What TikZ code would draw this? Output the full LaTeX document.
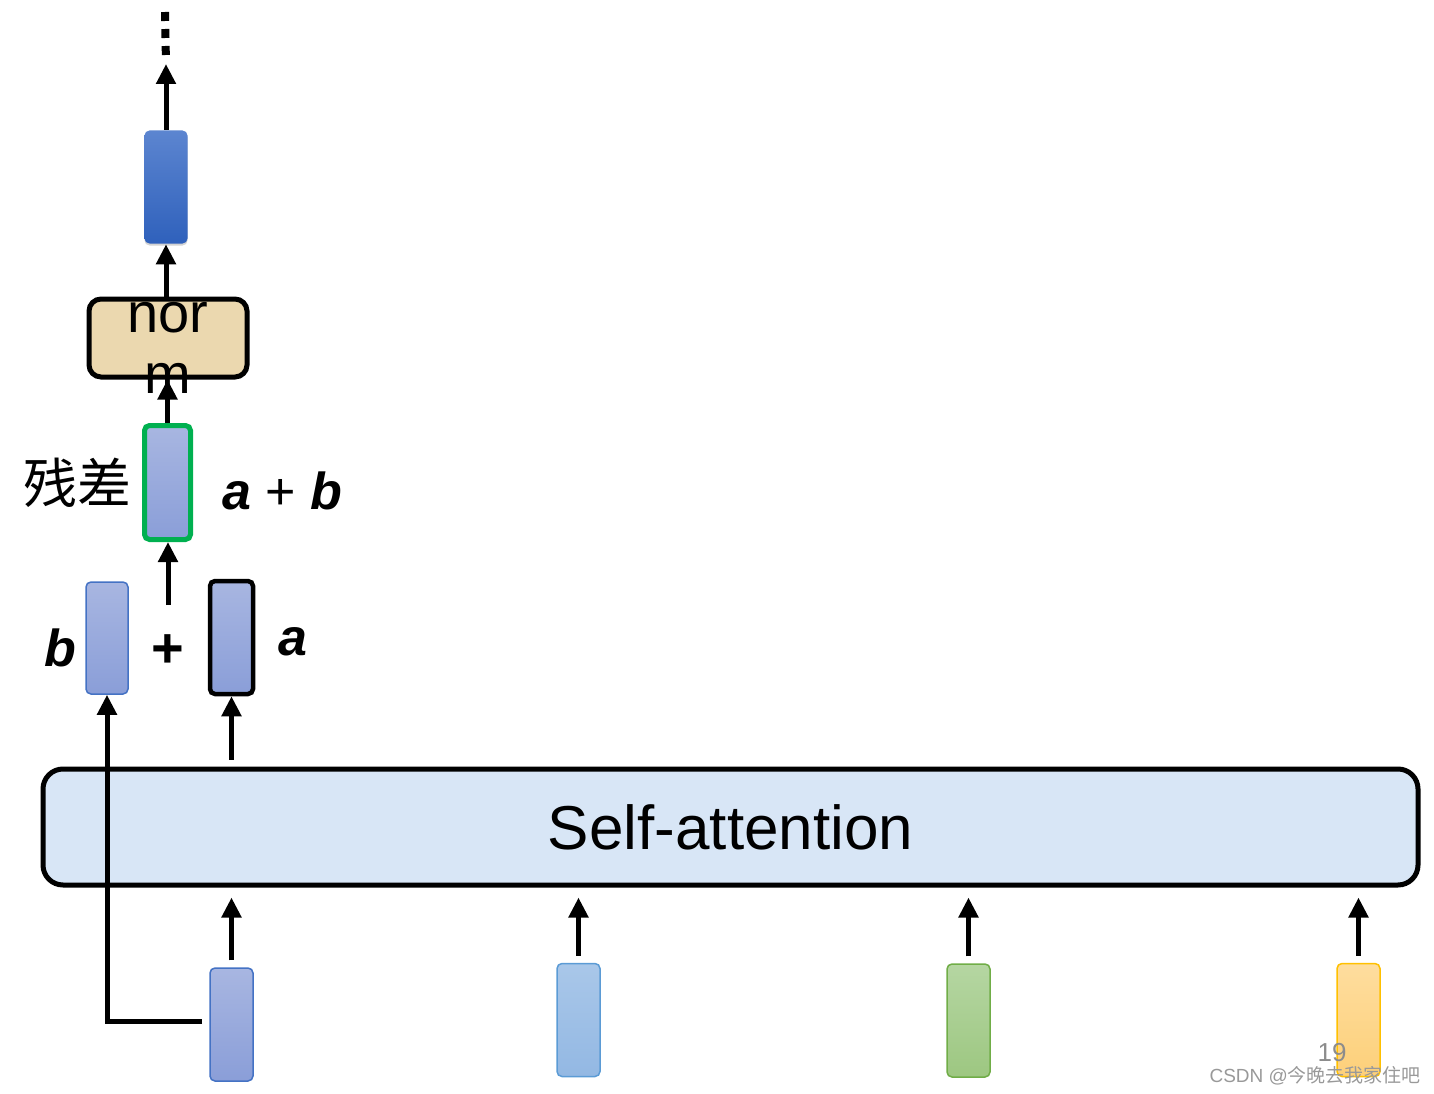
\documentclass[tikz,border=0pt]{standalone}
\usepackage{fontspec}
\setmainfont{Liberation Sans}
\newfontfamily\cjkfont{Noto Sans CJK SC}
\usetikzlibrary{arrows.meta,shadows}

\definecolor{lavtop}{HTML}{A8B6E1}
\definecolor{lavbot}{HTML}{8A9ED8}
\definecolor{vecedge}{HTML}{4472C4}
\definecolor{outtop}{HTML}{5C85D0}
\definecolor{outbot}{HTML}{2F61BC}
\definecolor{resgreen}{HTML}{00B050}
\definecolor{normfill}{HTML}{EBD8AF}
\definecolor{safill}{HTML}{D8E6F6}
\definecolor{skyedge}{HTML}{5B9BD5}
\definecolor{skytop}{HTML}{A9C7E9}
\definecolor{skybot}{HTML}{93B8E3}
\definecolor{leafedge}{HTML}{70AD47}
\definecolor{leaftop}{HTML}{B5D6A2}
\definecolor{leafbot}{HTML}{9DC781}
\definecolor{sunedge}{HTML}{FFC000}
\definecolor{suntop}{HTML}{FEDD9E}
\definecolor{sunbot}{HTML}{FDD07A}

\begin{document}
\begin{tikzpicture}[x=1pt, y=-1pt,
    vec/.style={draw=vecedge, line width=1.5pt, rounded corners=5pt, minimum width=43pt, minimum height=113pt, inner sep=0pt, top color=lavtop, bottom color=lavbot},
    arr/.style={line width=5pt, -{Triangle[width=19pt,length=20pt]}},
    lbl/.style={font=\fontsize{52}{52}\selectfont\bfseries\itshape},
  ]
  \useasboundingbox (0,0) rectangle (1434,1094);

  % upper part
  \node[vec, draw=none, top color=outtop, bottom color=outbot, drop shadow={opacity=0.35, shadow xshift=0pt, shadow yshift=-2pt}] (out) at (166,187) {};
  \node[draw, line width=5pt, rounded corners=12pt, fill=normfill, minimum width=158pt, minimum height=78pt, inner sep=0pt,
        label={[align=center, font=\fontsize{56}{61}\selectfont, yshift=-10pt]center:nor\\m}] (norm) at (168,338) {};
  \node[vec, draw=resgreen, line width=5pt, minimum width=46pt, minimum height=114pt] (res) at (167.5,482.5) {};
  \node[font=\cjkfont\fontsize{54}{54}\selectfont, left of=res, node distance=90pt] (reslbl) {残差};
  \node[font=\fontsize{52}{52}\selectfont, right of=res, node distance=115pt, yshift=-8pt] (sumlbl) {{\bfseries\itshape a} + {\bfseries\itshape b}};

  \coordinate (dotbot) at (166,64);
  \coordinate (dottop) at (165,12);
  \draw[line width=8pt, dash pattern=on 9pt off 8pt, shorten >=6pt] (dottop) -- (dotbot);
  \draw[arr] (out.north) -- (dotbot);
  \draw[arr] (out.south |- norm.north) -- (out.south);
  \draw[arr] (res.north) -- (res.north |- norm.south);

  % b + a
  \node[vec, minimum width=42pt, minimum height=112pt] (b) at (107,638) {};
  \node[vec, draw=black, line width=4.5pt] (a) at (231.5,637.5) {};
  \node[font=\fontsize{56}{56}\selectfont\bfseries] (plus) at (168,651) {+};
  \node[lbl, left of=b, node distance=47pt, yshift=-10pt] (blbl) {b};
  \node[lbl, right of=a, node distance=61pt, yshift=-4pt] (albl) {a};
  \draw[arr, shorten <=46pt] (plus.center) -- (plus.center |- res.south);

  % self-attention
  \node[draw, line width=5pt, rounded corners=20pt, fill=safill, minimum width=1375pt, minimum height=116pt,
        font=\fontsize{62}{62}\selectfont] (sa) at (730.5,827) {Self-attention};
  \draw[arr, shorten <=7pt] (sa.north -| a.south) -- (a.south);

  % inputs
  \node[vec] (in1) at (231.5,1024.5) {};
  \node[vec, draw=skyedge, top color=skytop, bottom color=skybot] (in2) at (578.5,1020) {};
  \node[vec, draw=leafedge, top color=leaftop, bottom color=leafbot] (in3) at (968.5,1020.5) {};
  \node[vec, draw=sunedge, top color=suntop, bottom color=sunbot] (in4) at (1358.5,1020) {};
  \foreach \n in {in1,in2,in3,in4}
    \draw[arr, shorten <=7pt, shorten >=10pt] (\n.north) -- (\n.north |- sa.south);

  % residual
  \coordinate (skip) at (202,1021);
  \draw[arr] (skip) -| (b.south);

  \node[text=gray!90, font=\fontsize{26}{26}\selectfont] (page) at (1332,1053) {19};
  \node[text=gray!80, font=\fontsize{19}{19}\selectfont, anchor=west] (mark) at (1206,1076) {CSDN @\cjkfont 今晚去我家住吧};
\end{tikzpicture}
\end{document}
